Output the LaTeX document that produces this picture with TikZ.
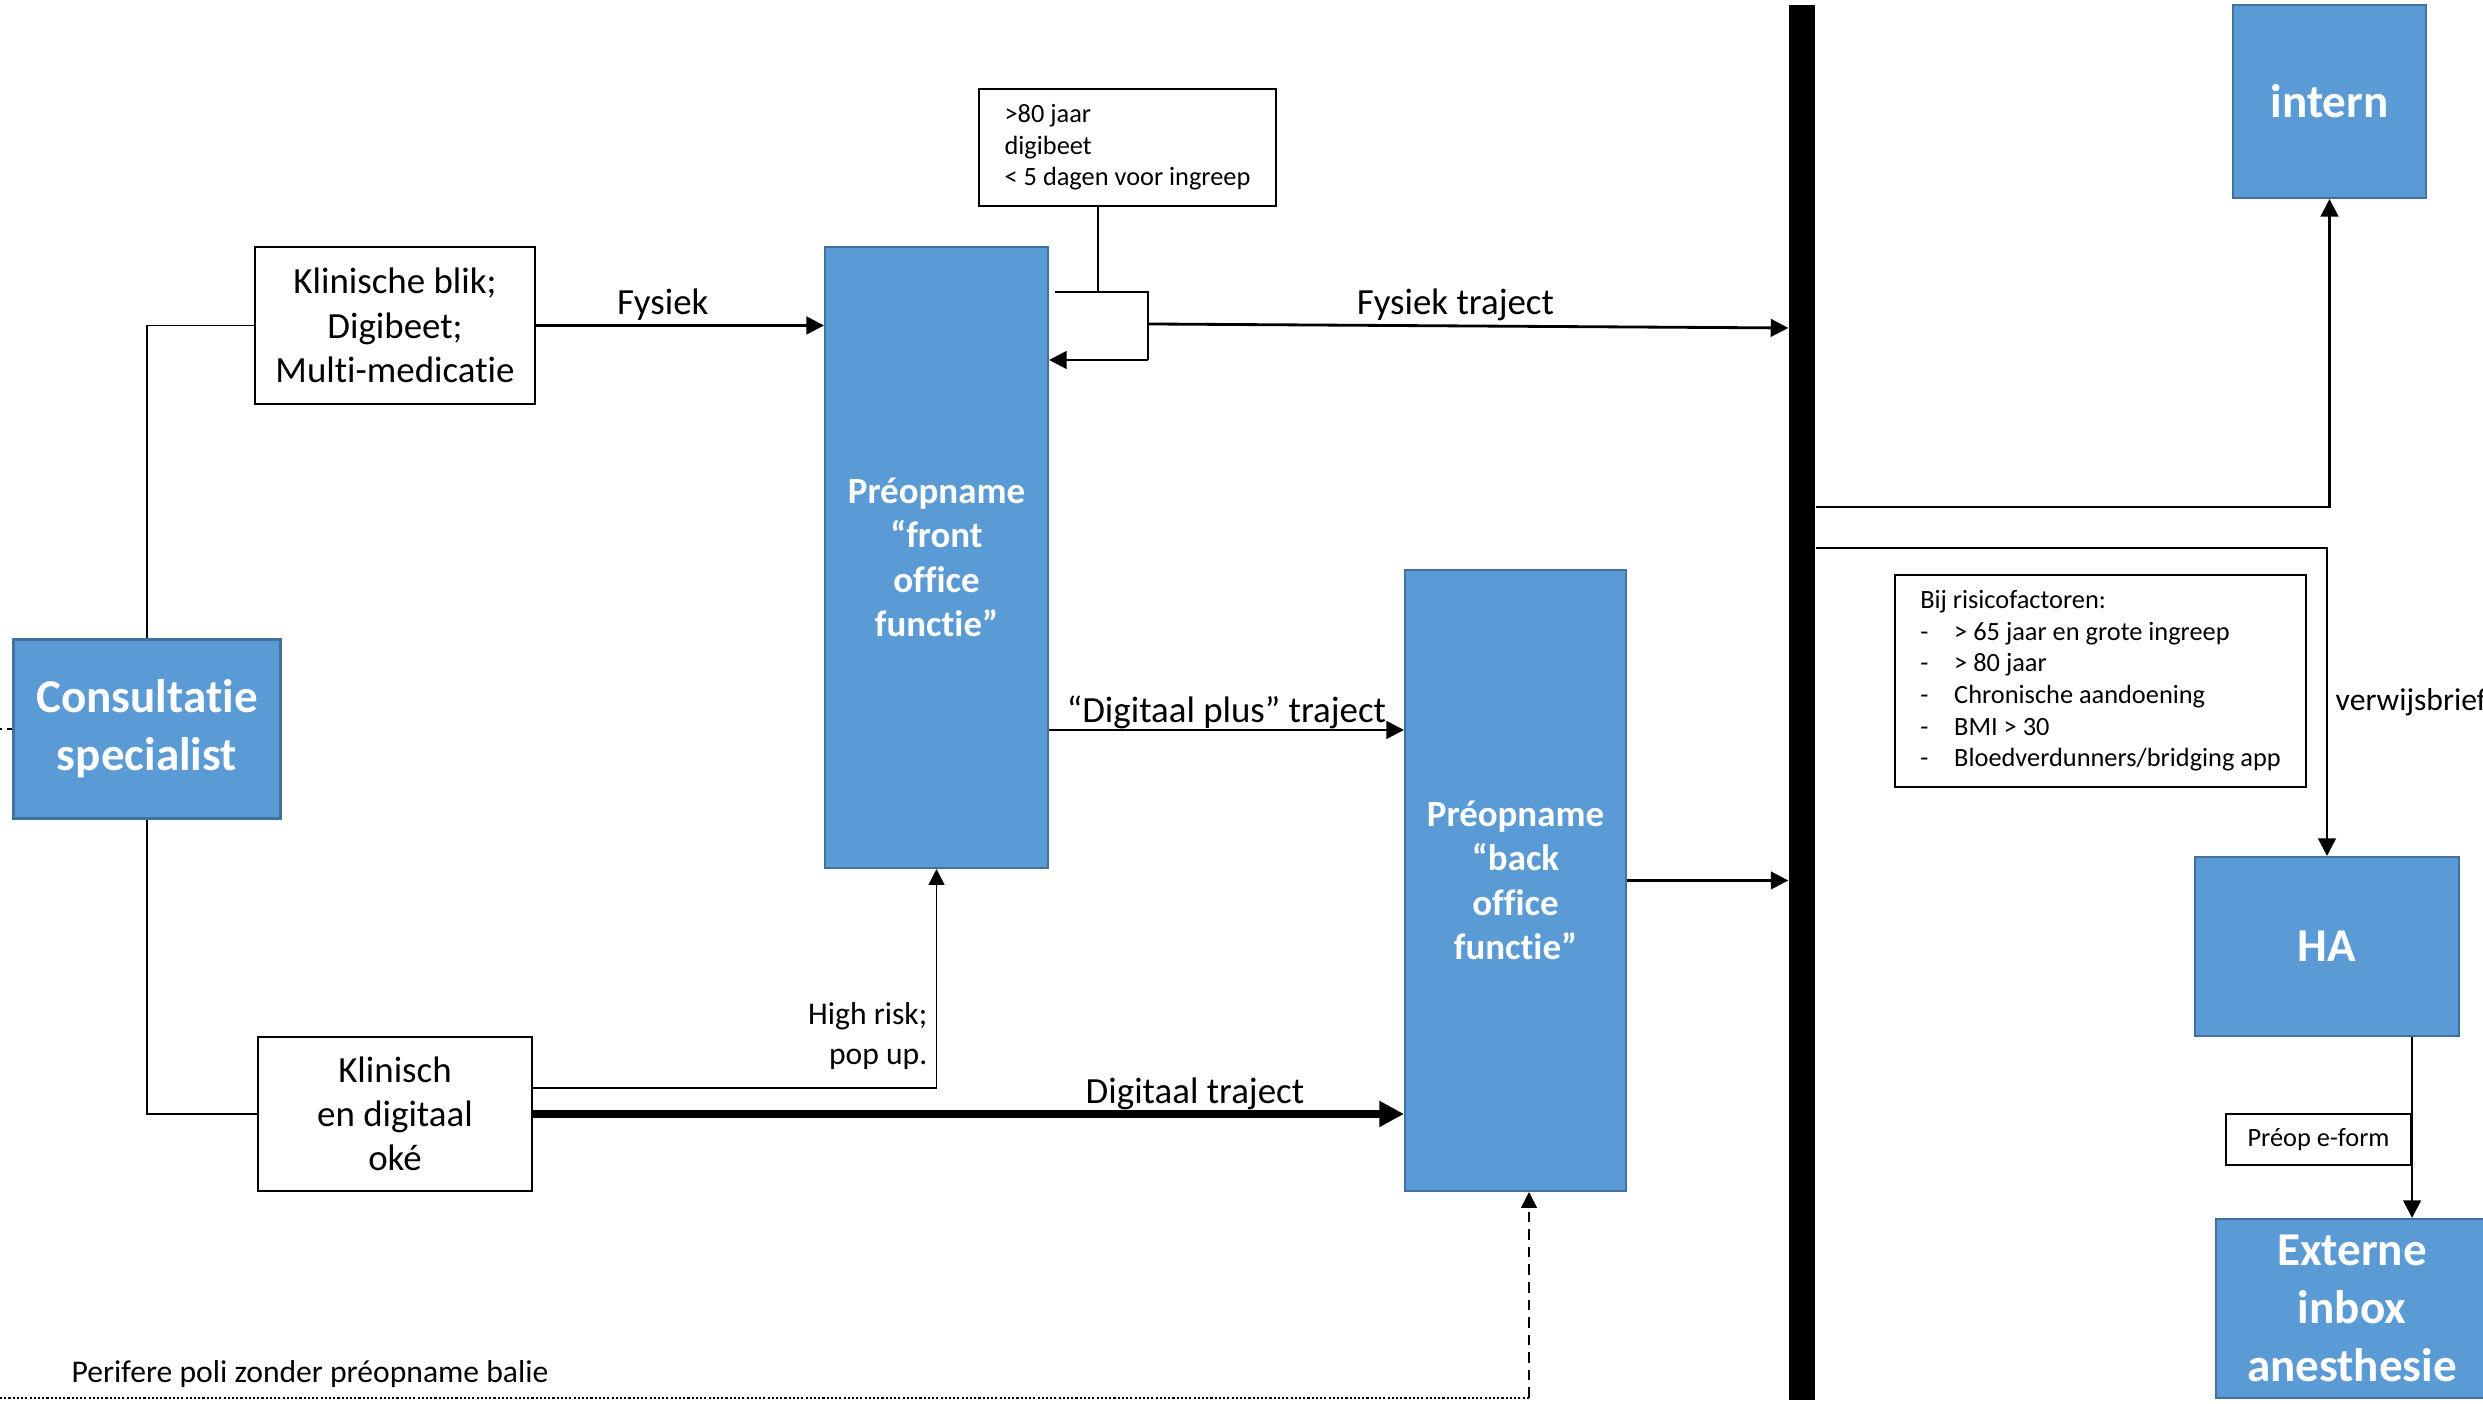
\documentclass[tikz,border=0pt]{standalone}
\usepackage{fontspec}
\setmainfont{Carlito}[Ligatures=NoCommon]
\usetikzlibrary{arrows.meta, positioning}
\definecolor{officeblue}{HTML}{5B9BD5}
\definecolor{officeedge}{HTML}{41719C}
\newcommand{\streep}{\makebox[0.34cm][l]{-}}

\tikzset{
    bluebox/.style={draw=officeedge, line width=0.6pt, fill=officeblue, text=white, align=center, inner sep=0pt},
    whitebox/.style={draw, line width=0.6pt, fill=white, align=center, inner sep=0pt},
    fbig/.style={font=\fontsize{13.4}{16.5}\selectfont\bfseries},
    fmidb/.style={font=\fontsize{10.5}{12.6}\selectfont\bfseries},
    fnorm/.style={font=\fontsize{10.5}{12.6}\selectfont},
    fmed/.style={font=\fontsize{9}{11.3}\selectfont},
    fsmall/.style={font=\fontsize{7.5}{9}\selectfont},
    thinline/.style={line width=0.45pt},
    arr/.style={line width=0.8pt, -{Triangle[length=5pt, width=5pt]}},
    arrthin/.style={line width=0.5pt, -{Triangle[length=4.5pt, width=4.5pt]}},
    lbl/.style={fnorm, inner sep=1pt},
}

\begin{document}
\begin{tikzpicture}
    \useasboundingbox (0,0) rectangle (24.83,14.04);

    % Blue boxes
    \node[bluebox, fbig, minimum width=2.67cm, minimum height=1.79cm] (cons) at (1.47,6.75) {Consultatie\\specialist};
    \node[bluebox, fmidb, minimum width=2.23cm, minimum height=6.21cm] (front) at (9.365,8.465) {Préopname\\“front\\office\\functie”};
    \node[bluebox, fmidb, minimum width=2.21cm, minimum height=6.21cm] (back) at (15.155,5.235) {Préopname\\“back\\office\\functie”};
    \node[bluebox, fbig, minimum width=1.93cm, minimum height=1.93cm] (intern) at (23.295,13.025) {intern};
    \node[bluebox, fbig, minimum width=2.64cm, minimum height=1.79cm] (ha) at (23.27,4.575) {HA};
    \node[bluebox, fbig, minimum width=2.72cm, minimum height=1.79cm] (ext) at (23.52,0.955) {Externe\\inbox\\anesthesie};

    % White boxes
    \node[whitebox, fnorm, minimum width=2.80cm, minimum height=1.57cm] (blik) at (3.95,10.785) {Klinische blik;\\Digibeet;\\Multi-medicatie};
    \node[whitebox, fnorm, minimum width=2.74cm, minimum height=1.54cm] (oke) at (3.95,2.90) {Klinisch\\en digitaal\\oké};
    \node[whitebox, fsmall, align=left, minimum width=2.97cm, minimum height=1.17cm] (crit) at (11.275,12.565) {>80 jaar\\digibeet\\< 5 dagen voor ingreep};
    \node[whitebox, fsmall, align=left, minimum width=4.11cm, minimum height=2.12cm] (risico) at (21.005,7.23)
        {Bij risicofactoren:\\\streep> 65 jaar en grote ingreep\\\streep> 80 jaar\\\streep Chronische aandoening\\\streep BMI > 30\\\streep Bloedverdunners/bridging app};
    \node[whitebox, fsmall, minimum width=1.85cm, minimum height=0.51cm] (eform) at (23.185,2.645) {Préop e-form};

    % The black bar
    \node[fill=black, inner sep=0pt, minimum width=0.26cm, minimum height=13.95cm] (bar) at (18.02,7.015) {};

    % Consultatie splits
    \draw[thinline] (cons.north) |- (blik.west);
    \draw[thinline] (cons.south) |- (oke.west);
    \draw[thinline, dash pattern=on 1.5pt off 1.5pt] (cons.west) -- (cons.west -| 0,0);

    % Physical route
    \draw[arr] (blik.east) -- (blik.east -| front.west) node[pos=0.44, above, lbl] (fysiek) {Fysiek};
    \coordinate (lpa) at (10.55,11.12);
    \coordinate (lpm) at (10.98,11.12);
    \coordinate (lpb) at (11.48,11.12);
    \coordinate (lpc) at (11.48,10.44);
    \draw[thinline] (crit.south -| lpm) -- (lpm);
    \draw[thinline] (lpa) -- (lpb) -- (lpc);
    \draw[arr] (lpc) -- (lpc -| front.east);
    \draw[arr] (11.48,10.80) -- (bar.west |- 0,10.76) node[pos=0.48, above, lbl] (fystraj) {Fysiek traject};

    % Digital routes
    \draw[arr] (front.east |- 0,6.74) -- (back.west |- 0,6.74) node[midway, above, lbl, inner sep=0pt] (digplus) {“Digitaal plus” traject};
    \draw[arr] (back.east) -- (back.east -| bar.west);
    \draw[arrthin] (oke.east |- 0,3.16) -| (front.south);
    \node[fmed, align=right, anchor=east, inner sep=0pt] (highrisk) at (9.28,3.68) {High risk;\\pop up.};
    \draw[line width=2.4pt, -{Triangle[length=7pt, width=7pt]}] (oke.east) -- (oke.east -| back.west) node[pos=0.76, above, lbl, inner sep=0pt] (digtraj) {Digitaal traject};

    % Right side
    \draw[arr] (bar.east |- 0,8.97) -| (intern.south);
    \draw[arr] (bar.east |- 0,8.56) -| (ha.north);
    \node[fmed, anchor=west, inner sep=0pt] (verw) at (23.35,7.02) {verwijsbrief};
    \draw[arr] (ha.south -| eform.east) -- (ext.north -| eform.east);

    % Perifere poli
    \coordinate (peri) at (15.29,0.06);
    \draw[thinline, dash pattern=on 0.6pt off 0.6pt] (0,0.06) -- (peri);
    \draw[arrthin, dash pattern=on 3pt off 2pt] (peri) -- (back.south -| peri);
    \node[fmed, anchor=west, inner sep=0pt] (perlab) at (0.71,0.30) {Perifere poli zonder préopname balie};
\end{tikzpicture}
\end{document}
